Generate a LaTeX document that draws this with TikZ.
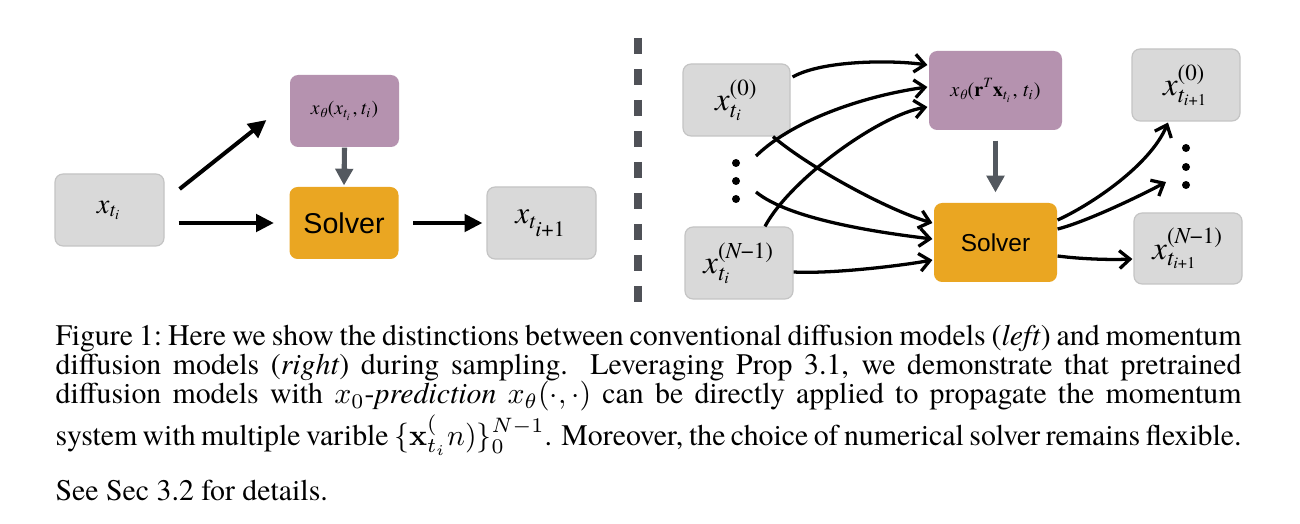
\documentclass[tikz,border=0pt]{standalone}
\usepackage{amsmath}
\usepackage[no-math]{fontspec}
\setmainfont{TeX Gyre Termes}
\setsansfont{Liberation Sans}
\usetikzlibrary{arrows.meta,calc}
\newdimen\pxu \pxu=0.3352pt
\newcommand\tv[1]{\text{\itshape #1}}
\definecolor{boxgray}{HTML}{D9D9D9}
\definecolor{boxline}{HTML}{C4C4C4}
\definecolor{purp}{HTML}{B592AF}
\definecolor{orng}{HTML}{EAA622}
\definecolor{darr}{HTML}{53585F}
\definecolor{dashc}{HTML}{4F5157}
\tikzset{
  gbox/.style={draw=boxline, fill=boxgray, rounded corners=2.7pt, minimum width=108*\pxu, minimum height=72*\pxu, inner sep=0pt, line width=0.4pt},
  pbox/.style={fill=purp, rounded corners=2.7pt, inner sep=0pt},
  obox/.style={fill=orng, rounded corners=2.7pt, inner sep=0pt, font=\sffamily},
  larr/.style={line width=1.35pt, -{Triangle[length=6pt,width=5.8pt]}},
  garr/.style={draw=darr, line width=1.7pt, -{Triangle[length=5.6pt,width=5.8pt]}},
  rarr/.style={line width=1.1pt, -{Straight Barb[length=3.5pt,width=6pt]}},
  dotn/.style={circle, fill=black, minimum size=8*\pxu, inner sep=0pt},
  dashline/.style={draw=dashc, line width=2.68pt, dash pattern=on 5.36pt off 5.03pt}
}
\begin{document}
\begin{tikzpicture}[x=\pxu, y=-\pxu]
\useasboundingbox[fill=white] (0,0) rectangle (1300,524);

% ---------- left panel ----------
\node[gbox, minimum width=109*\pxu, font=\fontsize{9.5}{11}\selectfont] (xa) at (109.5,210) {$\tv{x}_{\tv{t}_{\tv{i}}}$};
\node[pbox, minimum width=109*\pxu, minimum height=72*\pxu, font=\fontsize{6.6}{7}\selectfont] (pa) at (344.5,111) {$\tv{x}_{\tv{θ}}\text{(}\tv{x}_{\tv{t}_{\tv{i}}}\text{,\,}\tv{t}_{\tv{i}}\text{)}$};
\node[obox, minimum width=109*\pxu, minimum height=72*\pxu, font=\sffamily\fontsize{9.6}{12}\selectfont] (sa) at (344,223) {Solver};
\node[gbox, minimum width=109*\pxu, font=\fontsize{10.5}{12}\selectfont] (xb) at (541.5,223) {$\tv{x}_{\tv{t}_{\scriptstyle\tv{i}\text{+1}}}$};

\draw[larr] ($(xa.east)+(15,-21)$) -- ($(pa.west)+(-23,9)$);
\draw[larr] ($(xa.east)+(14,13)$) -- ($(sa.west)+(-15,0)$);
\draw[larr] ($(sa.east)+(14,0)$) -- ($(xb.west)+(-4,0)$);
\draw[garr] (pa.south) -- ($(sa.north)+(0,-1)$);

% ---------- separator ----------
\draw[dashline] (638,38) -- (638,302);

% ---------- right panel ----------
\node[gbox, minimum width=107*\pxu, font=\fontsize{11}{13}\selectfont] (x0) at (736.5,100) {$\tv{x}^{\text{(0)}}_{\tv{t}_{\tv{i}}}$};
\node[gbox, font=\fontsize{11}{13}\selectfont] (xn) at (739,263) {$\tv{x}^{\text{(}\tv{N}\text{−1)}}_{\tv{t}_{\tv{i}}}$};
\node[dotn] (d1) at (736,163) {};
\node[dotn] (d2) at (736,181) {};
\node[dotn] (d3) at (736,199) {};

\node[pbox, minimum width=133*\pxu, minimum height=79*\pxu, font=\fontsize{6.8}{8}\selectfont] (pr) at (995.5,90.5) {$\tv{x}_{\tv{θ}}\text{(}\text{\bfseries r}^{\tv{T}}\text{\bfseries x}_{\tv{t}_{\tv{i}}}\text{, }\tv{t}_{\tv{i}}\text{)}$};
\node[obox, minimum width=123*\pxu, minimum height=79*\pxu, font=\sffamily\fontsize{8.2}{10}\selectfont] (sr) at (995.5,242.5) {Solver};

\node[gbox, font=\fontsize{11}{13}\selectfont] (x0n) at (1186,85) {$\tv{x}^{\text{(0)}}_{\tv{t}_{\tv{i}\text{+1}}}$};
\node[gbox, minimum height=71*\pxu, font=\fontsize{11}{13}\selectfont] (xnn) at (1188,248.5) {$\tv{x}^{\text{(}\tv{N}\text{−1)}}_{\tv{t}_{\tv{i}\text{+1}}}$};
\node[dotn] (e1) at (1186,148) {};
\node[dotn] (e2) at (1186,167) {};
\node[dotn] (e3) at (1186,185) {};

\draw[garr] ($(pr.south)+(0,10)$) -- ($(sr.north)+(0,-10)$);

\draw[rarr] ($(x0.east)+(2,-23)$) .. controls +(30,-17) and +(-35,-5) .. ($(pr.west)+(-1,-25.5)$);
\draw[rarr] ($(x0.south)+(36.5,0)$) .. controls +(35,30) and +(-45,-13) .. ($(sr.west)+(-1,-19.5)$);
\draw[rarr] ($(d1)+(20,-7)$) .. controls +(39,-38) and +(-58,8) .. ($(pr.west)+(-1,-3.5)$);
\draw[rarr] ($(d3)+(20,-7)$) .. controls +(34,28) and +(-50,-6) .. ($(sr.west)+(-1,-3.5)$);
\draw[rarr] ($(xn.north)+(26,0)$) .. controls +(25,-47) and +(-48,8) .. ($(pr.west)+(-1,16.5)$);
\draw[rarr] ($(xn.east)+(0,9)$) .. controls +(37,2) and +(-33,6) .. ($(sr.west)+(-1,17.5)$);

\draw[rarr] ($(sr.east)+(0,-22.5)$) .. controls +(33,-15) and +(-18,43) .. ($(x0n.south)+(-18,1)$);
\draw[rarr] ($(sr.east)+(0,-13.5)$) .. controls +(28,-7) and +(-26,14) .. ($(e3)+(-20,-3)$);
\draw[rarr] ($(sr.east)+(0,13.5)$) .. controls +(23,3) and +(-23,1) .. ($(xnn.west)+(-1,10.5)$);

% ---------- caption ----------
\node[anchor=base west, inner sep=0pt, text width=1186*\pxu, font=\fontsize{10}{9.72}\selectfont] (cap) at (55,346)
{\spaceskip=0pt\xspaceskip=0pt\lineskiplimit=-100pt
\hbox to\hsize{Figure 1:\ Here we show the distinctions between conventional diffusion models (\textit{left}) and momentum}
\hbox to\hsize{diffusion models (\textit{right}) during sampling.  Leveraging Prop 3.1, we demonstrate that pretrained}
\hbox to\hsize{diffusion models with $x_0$-\textit{prediction} $x_\theta(\cdot,\cdot)$ can be directly applied to propagate the momentum}
\vspace{7pt}
\hbox to\hsize{system with multiple varible $\{\mathbf{x}_{t_i}^(n)\}_0^{N-1}$. Moreover, the choice of numerical solver remains flexible.}
\vspace{1.3pt}
\hbox{See Sec 3.2 for details.}};
\end{tikzpicture}
\end{document}
